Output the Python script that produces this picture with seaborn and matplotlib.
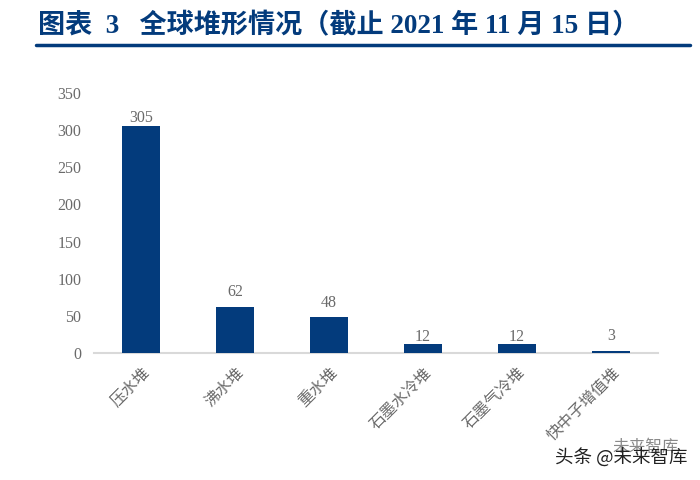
import matplotlib
matplotlib.use("Agg")
import matplotlib.pyplot as plt
from matplotlib.lines import Line2D
import seaborn as sns
import pandas as pd

categories = ["压水堆", "沸水堆", "重水堆", "石墨水冷堆", "石墨气冷堆", "快中子增值堆"]
values = [305, 62, 48, 12, 12, 3]
y_ticks = [0, 50, 100, 150, 200, 250, 300, 350]
label_gaps = [0, 7, 6, -1, -1, 7]
title_text = "图表  3   全球堆形情况（截止 2021 年 11 月 15 日）"
watermark = "头条 @未来智库"
watermark_back = "未来智库"

W, H = 700, 480
NAVY = "#033B7C"
GREY = "#6A6A6A"
FONTS = ["Liberation Serif", "Noto Sans CJK SC", "DejaVu Sans"]

sns.set_theme(style="white")
plt.rcParams["font.family"] = FONTS

fig = plt.figure(figsize=(7, 4.8), dpi=100, facecolor="white")
ax = fig.add_axes([94 / W, 1 - 353 / H, 564 / W, 260 / H])

df = pd.DataFrame({"category": categories, "value": values})
sns.barplot(data=df, x="category", y="value", color=NAVY, saturation=1, width=0.4,
            edgecolor=NAVY, linewidth=0, ax=ax)

ax.set_xlim(-0.5, 5.5)
ax.set_ylim(0, 350)
ax.set_yticks(y_ticks)
ax.set_yticklabels([str(v) for v in y_ticks], fontsize=11.5, color=GREY, fontfamily=FONTS)
ax.set_xlabel("")
ax.set_ylabel("")
ax.tick_params(axis="both", length=0)
ax.tick_params(axis="y", pad=9)
ax.tick_params(axis="x", pad=8)
for label in ax.get_xticklabels():
    label.set_rotation(45)
    label.set_ha("right")
    label.set_rotation_mode("anchor")
    label.set_fontsize(11.5)
    label.set_color(GREY)
    label.set_fontfamily(["Noto Sans CJK SC", "DejaVu Sans"])

sns.despine(ax=ax, left=True)
ax.spines["bottom"].set_color("#D9D9D9")
ax.spines["bottom"].set_linewidth(1.5)
ax.spines["bottom"].set_zorder(0)

for i, (v, gap) in enumerate(zip(values, label_gaps)):
    ax.annotate(str(v), (i, v), xytext=(0, gap * 0.72), textcoords="offset points",
                ha="center", va="bottom", fontsize=11.5, color=GREY)

fig.text(38 / W, 1 - 26 / H, title_text, fontsize=19.5, fontweight="bold", color=NAVY,
         va="center", ha="left", family=FONTS)
fig.add_artist(Line2D([36 / W, 690 / W], [1 - 45 / H, 1 - 45 / H], color=NAVY, lw=2.5,
                      transform=fig.transFigure))
fig.text(612 / W, 1 - 447 / H, watermark_back, fontsize=12, color="#8A8A8A", va="center", ha="left",
         family=["Noto Sans CJK SC", "DejaVu Sans"])
fig.text(555 / W, 1 - 458 / H, watermark, fontsize=13.3, color="#222222", va="center", ha="left",
         family=["Noto Sans CJK SC", "DejaVu Sans"])

fig.savefig("out.png", dpi=100)
